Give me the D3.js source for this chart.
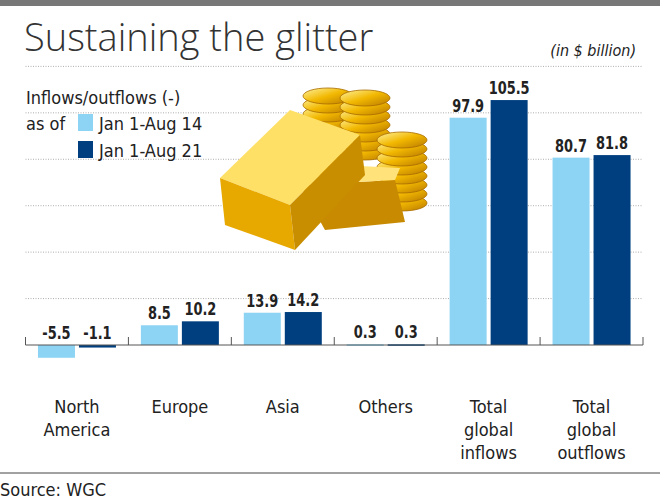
<!DOCTYPE html>
<html><head><meta charset="utf-8">
<script src="https://cdn.jsdelivr.net/npm/d3@7"></script>
<style>body{margin:0;background:#fff}</style></head>
<body><svg id="c" width="660" height="500"></svg>
<script>
const categories = [["North","America"],["Europe"],["Asia"],["Others"],["Total","global","inflows"],["Total","global","outflows"]];
const aug14 = [-5.5, 8.5, 13.9, 0.3, 97.9, 80.7];
const aug21 = [-1.1, 10.2, 14.2, 0.3, 105.5, 81.8];
const gridTicks = [20, 40, 60, 80, 100, 120];
const seriesNames = ["Jan 1-Aug 14", "Jan 1-Aug 21"];
const colors = ["#8dd3f3", "#003f7f"];

const svg = d3.select("#c");
const cond = "'DejaVu Sans Condensed','DejaVu Sans',sans-serif";
svg.append("rect").attr("x",0).attr("y",0).attr("width",660).attr("height",6).attr("fill","#777");
svg.append("text").attr("x",24).attr("y",51).text("Sustaining the glitter")
  .attr("font-family","'Open Sans'").attr("font-weight",300).attr("font-size",38).attr("fill","#333");
svg.append("text").attr("x",636).attr("y",56).attr("text-anchor","end").text("(in $ billion)")
  .attr("font-family",cond).attr("font-style","italic").attr("font-size",16).attr("fill","#222");

const x = d3.scaleBand().domain(d3.range(categories.length)).range([25.5,643]).paddingInner(0).paddingOuter(0);
const y = d3.scaleLinear().domain([0,120]).range([345,66.4]);
const g = svg.append("g");
gridTicks.forEach(t=>g.append("line").attr("x1",25.5).attr("x2",643).attr("y1",y(t)).attr("y2",y(t))
  .attr("stroke","#999").attr("stroke-dasharray","1,1.5").attr("stroke-width",0.8));

const deco = svg.append("g");
const grad = svg.append("defs").append("linearGradient").attr("id","gold").attr("x1",0).attr("y1",0).attr("x2",1).attr("y2",1);
grad.append("stop").attr("offset","0").attr("stop-color","#fff3a0");
grad.append("stop").attr("offset","0.5").attr("stop-color","#f2b800");
grad.append("stop").attr("offset","1").attr("stop-color","#b87800");
[[328,96,9],[365,98,7],[402,140,8]].forEach(([cx,cy,n])=>{
  for(let i=n-1;i>=0;i--){deco.append("ellipse").attr("cx",cx).attr("cy",cy+i*9).attr("rx",25).attr("ry",8)
    .attr("fill","url(#gold)").attr("stroke","#a86c00").attr("stroke-width",0.8);}
});
deco.append("polygon").attr("points","300,185 395,180 405,222 325,230").attr("fill","#c88a00");
deco.append("polygon").attr("points","300,185 340,165 400,168 395,180").attr("fill","#ffe37a");
deco.append("polygon").attr("points","220,178 290,110 360,135 290,205").attr("fill","#ffe066");
deco.append("polygon").attr("points","220,178 290,205 295,250 225,225").attr("fill","#e7a800");
deco.append("polygon").attr("points","290,205 360,135 365,175 295,250").attr("fill","#c98d00");

const bw = 37, gap = 4;
const offs = [(x.bandwidth()-2*bw-gap)/2, (x.bandwidth()-2*bw-gap)/2+bw+gap];
[aug14, aug21].forEach((s,si)=>{
  s.forEach((v,i)=>{
    const bx = x(i)+offs[si];
    g.append("rect").attr("x",bx).attr("width",bw).attr("y",Math.min(y(v),y(0))).attr("height",Math.max(Math.abs(y(v)-y(0)),1.5)).attr("fill",colors[si]);
    g.append("g").attr("transform",`translate(${bx+bw/2},${(v<0?y(0):y(v))-6}) scale(0.8,1)`)
      .append("text").attr("text-anchor","middle").text(v)
      .attr("font-family",cond).attr("font-weight","bold").attr("font-size",18).attr("fill","#222");
  });
});
g.append("line").attr("x1",25.5).attr("x2",643).attr("y1",y(0)).attr("y2",y(0)).attr("stroke","#555");
d3.range(categories.length+1).forEach(i=>{
  const xx = i<categories.length? x(i) : 643;
  g.append("line").attr("x1",xx).attr("x2",xx).attr("y1",y(0)-8).attr("y2",y(0)).attr("stroke","#555");
});
categories.forEach((c,i)=>{
  const t = g.append("text").attr("text-anchor","middle").attr("font-family",cond).attr("font-size",18).attr("fill","#222");
  c.forEach((l,j)=>t.append("tspan").attr("x",x(i)+x.bandwidth()/2).attr("y",413+j*23).text(l));
});

const lf = {"font-family":cond,"font-size":18,"fill":"#222"};
const lt = (xx,yy,s)=>{const t=svg.append("text").attr("x",xx).attr("y",yy).text(s);Object.entries(lf).forEach(([k,v])=>t.attr(k,v));};
lt(26,104,"Inflows/outflows (-)");
lt(26,130,"as of");
seriesNames.forEach((n,i)=>{
  svg.append("rect").attr("x",78).attr("y",114+i*27).attr("width",15).attr("height",17).attr("fill",colors[i]);
  lt(99,130+i*27,n);
});

svg.append("line").attr("x1",0).attr("x2",660).attr("y1",473).attr("y2",473).attr("stroke","#444");
lt(0,496,"Source: WGC");
</script></body></html>
